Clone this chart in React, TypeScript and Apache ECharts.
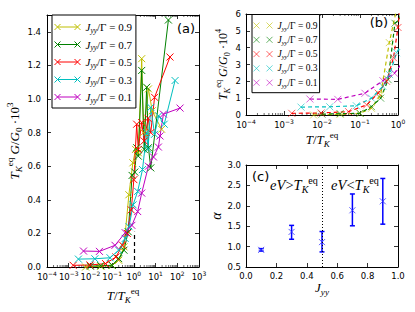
import React, { useEffect, useRef } from "react";
import * as echarts from "echarts";

// ---------------- data ----------------
const J_LABELS = ["0.9", "0.7", "0.5", "0.3", "0.1"];
const COLORS = ["#bfbf00", "#008000", "#ff0000", "#00bfbf", "#bf00bf"];

// T / T_K^eq  and  T_K^eq G/G0 * 10^3
const T_J09 = [0.006, 0.03, 0.1, 0.2, 0.35, 0.59, 0.9, 1.2, 1.6, 2.3, 2.8, 4.7, 7, 19];
const G_J09 = [0.0, 0.004, 0.01, 0.04, 0.12, 0.43, 0.62, 0.7, 0.68, 1.24, 0.8, 1.06, 0.93, 0.82];

const T_J07 = [0.01, 0.03, 0.1, 0.2, 0.35, 0.55, 0.83, 1.1, 1.35, 1.6, 2.3, 3, 3.9, 4.7, 6, 39];
const G_J07 = [0.005, 0.008, 0.01, 0.05, 0.1, 0.21, 0.545, 0.565, 0.71, 0.66, 1.17, 0.7, 1.07, 0.71, 0.59, 1.47];

const T_J05 = [0.0016, 0.0095, 0.05, 0.15, 0.3, 0.5, 0.76, 1.0, 1.35, 1.6, 2.3, 3, 4.5, 6, 9, 46];
const G_J05 = [0.01, 0.012, 0.02, 0.06, 0.13, 0.2, 0.34, 0.52, 0.85, 0.7, 0.86, 0.75, 0.885, 0.8, 1.01, 1.25];

const T_J03 = [0.0028, 0.016, 0.08, 0.2, 0.4, 0.6, 0.92, 1.5, 2.5, 3.9, 4.5, 6, 9, 14, 25, 79];
const G_J03 = [0.047, 0.049, 0.055, 0.1, 0.17, 0.24, 0.37, 0.45, 0.58, 0.8, 0.7, 0.95, 0.79, 0.9, 0.85, 1.11];

const T_J01 = [0.0048, 0.026, 0.135, 0.4, 0.81, 1.5, 2.3, 4.7, 8, 13.5, 16, 23, 134];
const G_J01 = [0.095, 0.093, 0.129, 0.204, 0.248, 0.33, 0.44, 0.6, 0.655, 0.714, 0.78, 0.91, 0.946];

const SERIES_T = [T_J09, T_J07, T_J05, T_J03, T_J01];
const SERIES_G = [G_J09, G_J07, G_J05, G_J03, G_J01];

const ZOOM_FACTOR = 10; // panel (b) is in units of 10^-4
const TK_MARK = [1, 0.21];

const JYY = [0.1, 0.3, 0.5, 0.7, 0.9];
const ALPHA = [0.92, 1.36, 1.11, 1.89, 2.11];
const ALPHA_LOW = [0.89, 1.18, 0.87, 1.51, 1.55];
const ALPHA_HIGH = [0.95, 1.52, 1.37, 2.29, 2.67];
const DIVIDER_J = 0.5;

// log-axis minor tick positions (2..9 within each decade)
const MINOR_MULT = [2, 3, 4, 5, 6, 7, 8, 9];
const DECADES_A = [1e-4, 1e-3, 1e-2, 1e-1, 1, 10, 100];
const DECADES_B = [1e-4, 1e-3, 1e-2, 1e-1];

// ---------------- styles ----------------
const SANS = "'DejaVu Sans', sans-serif";
const SERIF = "'Liberation Serif', 'DejaVu Serif', serif";
const CROSS = "path://M0,0L10,10M10,0L0,10";
const ICON_A = "path://M3,3.5L23,3.5M0,0.5L6,6.5M6,0.5L0,6.5M20,0.5L26,6.5M26,0.5L20,6.5";
const ICON_B = "path://M0,0L6,6M6,0L0,6M13,0L19,6M19,0L13,6";

function mathRich(size: number) {
  const sm = Math.round(size * 0.7 * 10) / 10;
  const lh = size + 5;
  return {
    i: { fontFamily: SERIF, fontStyle: "italic", fontSize: size, lineHeight: lh, color: "#000" },
    n: { fontFamily: SERIF, fontSize: size, lineHeight: lh, color: "#000" },
    e: { fontFamily: SERIF, fontSize: sm, lineHeight: sm, verticalAlign: "top", color: "#000" },
    s: { fontFamily: SERIF, fontStyle: "italic", fontSize: sm, lineHeight: sm, verticalAlign: "bottom", color: "#000" },
    z: { fontFamily: SERIF, fontSize: sm, lineHeight: sm, verticalAlign: "bottom", color: "#000" },
  };
}

const TICK_RICH = {
  b: { fontFamily: SANS, fontSize: 8.5, lineHeight: 14, color: "#000" },
  x: { fontFamily: SANS, fontSize: 6, lineHeight: 7, verticalAlign: "top", color: "#000" },
};

function logLabel(v: number) {
  const p = Math.round(Math.log10(v));
  const s = p < 0 ? "\u2212" + Math.abs(p) : String(p);
  return `{b|10}{x|${s}}`;
}

const TK = "{i|T}{s|K}{e|eq}";

function axisBase(gridIndex: number, position: string, show: boolean) {
  return {
    gridIndex,
    position,
    axisLine: { show: true, onZero: false, lineStyle: { color: "#000", width: 1 } },
    axisTick: { show: true, inside: true, length: 4, lineStyle: { color: "#000", width: 0.8 } },
    splitLine: { show: false },
    axisLabel: { show },
  };
}

function minorTickSeries(decades: number[], xAxisIndex: number, yAxisIndex: number) {
  const vals: number[] = [];
  decades.forEach((d) => MINOR_MULT.forEach((m) => vals.push(d * m)));
  return {
    type: "custom",
    xAxisIndex,
    yAxisIndex,
    silent: true,
    data: vals.map((v) => [v]),
    encode: { x: 0 },
    renderItem: (params: any, api: any) => {
      const cs = params.coordSys;
      const x = api.coord([api.value(0), 0])[0];
      const st = { stroke: "#000", lineWidth: 0.6 };
      return {
        type: "group",
        children: [
          { type: "line", shape: { x1: x, y1: cs.y + cs.height, x2: x, y2: cs.y + cs.height - 2 }, style: st },
          { type: "line", shape: { x1: x, y1: cs.y, x2: x, y2: cs.y + 2 }, style: st },
        ],
      };
    },
  };
}

export default function App() {
  const ref = useRef<HTMLDivElement>(null);
  useEffect(() => {
    if (!ref.current) return;
    const chart = echarts.init(ref.current, undefined, { renderer: "svg" });

    const xAxis: any[] = [
      {
        ...axisBase(0, "bottom", true),
        type: "log", logBase: 10, min: 1e-4, max: 1e3,
        axisLabel: { show: true, margin: 3, formatter: logLabel, rich: TICK_RICH },
        name: `{i|T}{n|/}${TK}`, nameLocation: "middle", nameGap: 15,
        nameTextStyle: { rich: mathRich(13) },
      },
      { ...axisBase(0, "top", false), type: "log", logBase: 10, min: 1e-4, max: 1e3 },
      {
        ...axisBase(1, "bottom", true),
        type: "log", logBase: 10, min: 1e-4, max: 1,
        axisLabel: { show: true, margin: 3, formatter: logLabel, rich: TICK_RICH },
        name: `{i|T}{n|/}${TK}`, nameLocation: "middle", nameGap: 13,
        nameTextStyle: { rich: mathRich(13) },
      },
      { ...axisBase(1, "top", false), type: "log", logBase: 10, min: 1e-4, max: 1 },
      {
        ...axisBase(2, "bottom", true),
        type: "value", min: 0, max: 1, interval: 0.2,
        axisLabel: { show: true, margin: 4, fontFamily: SANS, fontSize: 8.5, color: "#000", formatter: (v: number) => v.toFixed(1) },
        name: "{i|J}{s|yy}", nameLocation: "middle", nameGap: 9,
        nameTextStyle: { rich: mathRich(13) },
      },
      { ...axisBase(2, "top", false), type: "value", min: 0, max: 1, interval: 0.2 },
    ];

    const yAxis: any[] = [
      {
        ...axisBase(0, "left", true),
        type: "value", min: 0, max: 1.5, interval: 0.2,
        axisLabel: { show: true, showMaxLabel: false, margin: 6, fontFamily: SANS, fontSize: 8.5, color: "#000", formatter: (v: number) => v.toFixed(1) },
        name: `${TK}{n| }{i|G}{n|/}{i|G}{z|0}{n| ·10}{e|3}`, nameLocation: "middle", nameGap: 18, nameRotate: 90,
        nameTextStyle: { rich: mathRich(13) },
      },
      { ...axisBase(0, "right", false), type: "value", min: 0, max: 1.5, interval: 0.2 },
      {
        ...axisBase(1, "left", true),
        type: "value", min: 0, max: 6, interval: 1,
        axisLabel: { show: true, margin: 5, fontFamily: SANS, fontSize: 8.5, color: "#000" },
        name: `${TK}{n| }{i|G}{n|/}{i|G}{z|0}{n| ·10}{e|4}`, nameLocation: "middle", nameGap: 9, nameRotate: 90,
        nameTextStyle: { rich: mathRich(12) },
      },
      { ...axisBase(1, "right", false), type: "value", min: 0, max: 6, interval: 1 },
      {
        ...axisBase(2, "left", true),
        type: "value", min: 0.5, max: 3, interval: 0.5,
        axisLabel: { show: true, margin: 5, fontFamily: SANS, fontSize: 8.5, color: "#000", formatter: (v: number) => v.toFixed(1) },
        name: "{i|α}", nameLocation: "middle", nameGap: 15, nameRotate: 90,
        nameTextStyle: { rich: mathRich(14) },
      },
      { ...axisBase(2, "right", false), type: "value", min: 0.5, max: 3, interval: 0.5 },
    ];

    const seriesA = SERIES_T.map((ts, i) => ({
      type: "line",
      name: "a" + J_LABELS[i],
      xAxisIndex: 0,
      yAxisIndex: 0,
      data: ts.map((t, k) => [t, SERIES_G[i][k]]),
      symbol: CROSS,
      symbolSize: 7,
      lineStyle: { color: COLORS[i], width: 1 },
      itemStyle: { color: COLORS[i], borderColor: COLORS[i], borderWidth: 1 },
      markLine:
        i === SERIES_T.length - 1
          ? {
              silent: true,
              symbol: "none",
              label: { show: false },
              lineStyle: { color: "#000", type: [4, 3], width: 1.2 },
              data: [[{ coord: [TK_MARK[0], 0] }, { coord: [TK_MARK[0], TK_MARK[1]] }]],
            }
          : undefined,
    }));

    const seriesB = SERIES_T.map((ts, i) => ({
      type: "line",
      name: "b" + J_LABELS[i],
      xAxisIndex: 2,
      yAxisIndex: 2,
      data: ts.map((t, k) => [t, SERIES_G[i][k] * ZOOM_FACTOR]),
      symbol: CROSS,
      symbolSize: 7,
      lineStyle: { color: COLORS[i], width: 1.2, type: [4, 3] },
      itemStyle: { color: COLORS[i], borderColor: COLORS[i], borderWidth: 1, opacity: 0.6 },
    }));

    const seriesC: any[] = [
      {
        type: "custom",
        xAxisIndex: 4,
        yAxisIndex: 4,
        data: JYY.map((j, i) => [j, ALPHA_LOW[i], ALPHA_HIGH[i]]),
        encode: { x: 0, y: [1, 2] },
        renderItem: (params: any, api: any) => {
          const x = api.value(0);
          const lo = api.coord([x, api.value(1)]);
          const hi = api.coord([x, api.value(2)]);
          const cap = 2.5;
          const st = { stroke: "#0000ff", lineWidth: 1.5 };
          return {
            type: "group",
            children: [
              { type: "line", shape: { x1: lo[0], y1: lo[1], x2: hi[0], y2: hi[1] }, style: st },
              { type: "line", shape: { x1: lo[0] - cap, y1: lo[1], x2: lo[0] + cap, y2: lo[1] }, style: st },
              { type: "line", shape: { x1: hi[0] - cap, y1: hi[1], x2: hi[0] + cap, y2: hi[1] }, style: st },
            ],
          };
        },
      },
      {
        type: "scatter",
        xAxisIndex: 4,
        yAxisIndex: 4,
        data: JYY.map((j, i) => [j, ALPHA[i]]),
        symbol: CROSS,
        symbolSize: 6,
        itemStyle: { color: "#3333ff", borderColor: "#3333ff", borderWidth: 1 },
        markLine: {
          silent: true,
          symbol: "none",
          label: { show: false },
          lineStyle: { color: "#000", type: [1, 2], width: 1 },
          data: [{ xAxis: DIVIDER_J }],
        },
      },
    ];

    const legendRichA = {
      i: { fontFamily: SERIF, fontStyle: "italic", fontSize: 11, lineHeight: 14, color: "#000" },
      s: { fontFamily: SERIF, fontStyle: "italic", fontSize: 7.5, lineHeight: 7, verticalAlign: "bottom", color: "#000" },
      n: { fontFamily: SERIF, fontSize: 11, lineHeight: 14, color: "#000" },
    };
    const legendRichB = {
      i: { fontFamily: SERIF, fontStyle: "italic", fontSize: 9.5, lineHeight: 12, color: "#000" },
      s: { fontFamily: SERIF, fontStyle: "italic", fontSize: 6.5, lineHeight: 6, verticalAlign: "bottom", color: "#000" },
      n: { fontFamily: SERIF, fontSize: 9.5, lineHeight: 12, color: "#000" },
    };
    const legendText = (name: string) => `{i|J}{s|yy}{n|/Γ = ${name.slice(1)}}`;

    const panelRich = mathRich(14.5);

    chart.setOption({
      animation: false,
      backgroundColor: "#fff",
      grid: [
        { left: 47, top: 15, width: 152, height: 252 },
        { left: 246, top: 14, width: 152, height: 101 },
        { left: 246, top: 165, width: 152, height: 102 },
      ],
      xAxis,
      yAxis,
      legend: [
        {
          left: 52,
          top: 15,
          orient: "vertical",
          selectedMode: false,
          data: J_LABELS.map((j, i) => ({
            name: "a" + j,
            icon: ICON_A,
            itemStyle: { color: COLORS[i], borderColor: COLORS[i], borderWidth: 1, opacity: 1 },
          })),
          itemWidth: 26,
          itemHeight: 7,
          itemGap: 3.5,
          itemTextGap: 4,
          padding: [5, 4, 4, 2],
          borderColor: "#000",
          borderWidth: 1,
          backgroundColor: "#fff",
          formatter: legendText,
          textStyle: { fontSize: 11, lineHeight: 14, rich: legendRichA },
        },
        {
          left: 252,
          top: 14.5,
          orient: "vertical",
          selectedMode: false,
          data: J_LABELS.map((j, i) => ({
            name: "b" + j,
            icon: ICON_B,
            itemStyle: { color: COLORS[i], borderColor: COLORS[i], borderWidth: 1, opacity: 0.6 },
          })),
          itemWidth: 19,
          itemHeight: 6,
          itemGap: 2.3,
          itemTextGap: 5,
          padding: [5, 2, 4, 1],
          borderColor: "#000",
          borderWidth: 1,
          backgroundColor: "#fff",
          formatter: legendText,
          textStyle: { fontSize: 9.5, lineHeight: 12, rich: legendRichB },
        },
      ],
      graphic: [
        { type: "text", x: 186, y: 28.5, style: { text: "(a)", font: `13px ${SANS}`, fill: "#000", align: "center", verticalAlign: "middle" } },
        { type: "text", x: 379, y: 22, style: { text: "(b)", font: `13px ${SANS}`, fill: "#000", align: "center", verticalAlign: "middle" } },
        { type: "text", x: 252, y: 176, style: { text: "(c)", font: `13px ${SANS}`, fill: "#000", align: "left", verticalAlign: "middle" } },
        { type: "text", x: 294, y: 185, style: { text: `{i|eV}{n|>}${TK}`, rich: panelRich, align: "center", verticalAlign: "middle" } },
        { type: "text", x: 355, y: 185, style: { text: `{i|eV}{n|<}${TK}`, rich: panelRich, align: "center", verticalAlign: "middle" } },
      ],
      series: [
        ...seriesA,
        ...seriesB,
        ...seriesC,
        minorTickSeries(DECADES_A, 0, 0),
        minorTickSeries(DECADES_B, 2, 2),
      ],
    });

    return () => chart.dispose();
  }, []);

  return <div ref={ref} style={{ position: "fixed", left: 0, top: 0, width: 415, height: 312 }} />;
}
